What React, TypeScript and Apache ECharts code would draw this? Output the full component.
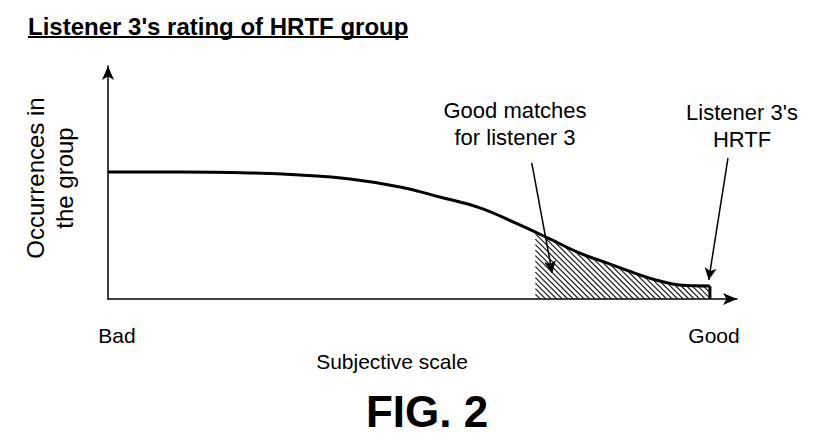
import React, { useEffect, useRef } from "react";
import * as echarts from "echarts";

// Curve (x: subjective scale 0..100, y: occurrences 0..100)
const curveX = [0, 12, 23.6, 31.9, 40.2, 48.5, 55.1, 61.8, 68.4, 73.4, 78.4, 83.4, 88.4, 91.7, 95, 100];
const curveY = [54.5, 54.5, 54.1, 53.2, 51.5, 48.1, 43.8, 39.1, 31.8, 25.8, 19.7, 15.0, 10.3, 7.7, 6.0, 5.6];
// Hatched "good matches" range on the x scale
const hatchRange = [71, 100];
// Annotation arrows [from, to] in data coordinates
const arrowMatches = [[70.4, 58.4], [73.8, 11.2]];
const arrowHrtf = [[103, 60.5], [99.8, 8.2]];
// Texts
const scaleEnds = ["Bad", "Good"];
const titleText = "Listener 3's rating of HRTF group";
const yAxisName = "Occurrences in\nthe group";
const xAxisName = "Subjective scale";
const noteMatches = "Good matches\nfor listener 3";
const noteHrtf = "Listener 3's\nHRTF";
const figText = "FIG. 2";

const FONT = "Liberation Sans";

export default function App() {
  const ref = useRef<HTMLDivElement>(null);
  useEffect(() => {
    if (!ref.current) return;
    const chart = echarts.init(ref.current, undefined, { renderer: "svg" });
    const lineData = curveX.map((x, i) => [x, curveY[i]]);

    const renderHatch = (params: any, api: any) => {
      const pts = curveX.map((x, i) => api.coord([x, curveY[i]]));
      const base = api.coord([0, 0])[1];
      const px0 = api.coord([hatchRange[0], 0])[0];
      const px1 = api.coord([hatchRange[1], 0])[0];
      const curveAt = (px: number) => {
        for (let i = 0; i < pts.length - 1; i++) {
          const a = pts[i], b = pts[i + 1];
          if (px >= a[0] && px <= b[0]) {
            const t = (px - a[0]) / (b[0] - a[0] || 1);
            return a[1] + t * (b[1] - a[1]);
          }
        }
        return pts[pts.length - 1][1];
      };
      const children: any[] = [];
      const step = 5.5;
      const kMin = curveAt(px0) - px1 - step;
      const kMax = base - px0;
      for (let k = kMin; k <= kMax; k += step) {
        let tx: number, ty: number;
        if (px0 + k >= curveAt(px0)) {
          tx = px0; ty = px0 + k;
        } else if (px1 + k < curveAt(px1)) {
          continue;
        } else {
          let lo = px0, hi = px1;
          for (let it = 0; it < 40; it++) {
            const mid = (lo + hi) / 2;
            if (mid + k - curveAt(mid) < 0) lo = mid; else hi = mid;
          }
          tx = (lo + hi) / 2; ty = tx + k;
        }
        if (ty >= base) continue;
        let bx = base - k, by = base;
        if (bx > px1) { bx = px1; by = px1 + k; }
        children.push({
          type: "line",
          shape: { x1: tx, y1: ty, x2: bx, y2: by },
          style: { stroke: "#222", lineWidth: 1.2 },
        });
      }
      children.push({
        type: "line",
        shape: { x1: px1, y1: curveAt(px1), x2: px1, y2: base },
        style: { stroke: "#000", lineWidth: 3 },
      });
      return { type: "group", children };
    };

    const axisCommon = {
      type: "value" as const,
      axisTick: { show: false },
      axisLabel: { show: false },
      splitLine: { show: false },
      axisLine: {
        show: true,
        symbol: ["none", "arrow"],
        symbolSize: [9, 14],
        lineStyle: { color: "#000", width: 1.5 },
      },
    };

    const txt = (s: any) => ({ fill: "#000", fontFamily: FONT, fontWeight: "normal", ...s });

    chart.setOption({
      animation: false,
      backgroundColor: "#fff",
      grid: { left: 108, right: 76, top: 66, bottom: 143, containLabel: false },
      xAxis: { ...axisCommon, min: 0, max: 104.5 },
      yAxis: { ...axisCommon, min: 0, max: 100 },
      series: [
        {
          type: "custom",
          renderItem: renderHatch,
          data: [hatchRange],
          silent: true,
          z: 1,
        },
        {
          type: "line",
          data: lineData,
          smooth: 0.4,
          showSymbol: false,
          silent: true,
          lineStyle: { color: "#000", width: 3 },
          z: 3,
          markLine: {
            silent: true,
            symbol: ["none", "arrow"],
            symbolSize: [9, 12],
            label: { show: false },
            lineStyle: { color: "#000", width: 1.5, type: "solid" },
            data: [
              [{ coord: arrowMatches[0] }, { coord: arrowMatches[1] }],
              [{ coord: arrowHrtf[0] }, { coord: arrowHrtf[1] }],
            ],
          },
        },
      ],
      graphic: [
        {
          type: "text",
          x: 28,
          y: 26,
          style: txt({ text: titleText, fontSize: 24, fontWeight: "bold", verticalAlign: "middle" }),
        },
        {
          type: "line",
          shape: { x1: 28, y1: 37, x2: 408, y2: 37 },
          style: { stroke: "#000", lineWidth: 2 },
        },
        {
          type: "text",
          x: 50,
          y: 178,
          rotation: Math.PI / 2,
          style: txt({
            text: yAxisName,
            fontSize: 24,
            align: "center",
            verticalAlign: "middle",
            lineHeight: 29,
          }),
        },
        {
          type: "text",
          x: 515,
          y: 124,
          style: txt({
            text: noteMatches,
            fontSize: 22,
            align: "center",
            verticalAlign: "middle",
            lineHeight: 27,
          }),
        },
        {
          type: "text",
          x: 742,
          y: 126,
          style: txt({
            text: noteHrtf,
            fontSize: 22,
            align: "center",
            verticalAlign: "middle",
            lineHeight: 27,
          }),
        },
        {
          type: "text",
          x: 117,
          y: 335,
          style: txt({ text: scaleEnds[0], fontSize: 21, align: "center", verticalAlign: "middle" }),
        },
        {
          type: "text",
          x: 714,
          y: 335,
          style: txt({ text: scaleEnds[1], fontSize: 21, align: "center", verticalAlign: "middle" }),
        },
        {
          type: "text",
          x: 392,
          y: 361,
          style: txt({ text: xAxisName, fontSize: 21, align: "center", verticalAlign: "middle" }),
        },
        {
          type: "text",
          x: 427,
          y: 411,
          style: txt({ text: figText, fontSize: 44, fontWeight: "bold", align: "center", verticalAlign: "middle" }),
        },
      ],
    });
    return () => chart.dispose();
  }, []);
  return (
    <div
      ref={ref}
      style={{ position: "fixed", left: 0, top: 0, width: 813, height: 442, background: "#fff" }}
    />
  );
}
